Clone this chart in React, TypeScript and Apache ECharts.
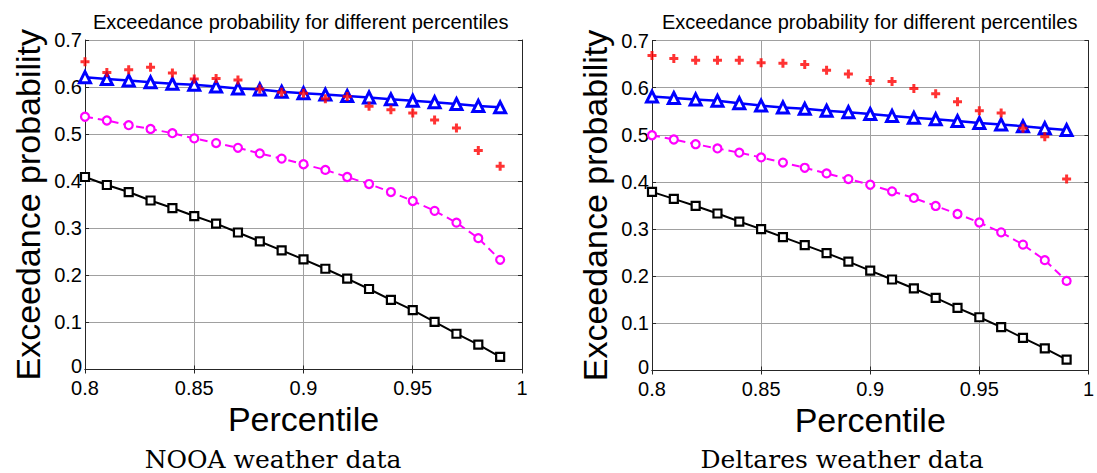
import React, { useEffect, useRef } from "react";
import * as echarts from "echarts";

const percentiles = [0.80, 0.81, 0.82, 0.83, 0.84, 0.85, 0.86, 0.87, 0.88, 0.89, 0.90, 0.91, 0.92, 0.93, 0.94, 0.95, 0.96, 0.97, 0.98, 0.99];

const noaaRed = [0.654, 0.631, 0.637, 0.642, 0.630, 0.617, 0.618, 0.615, 0.596, 0.589, 0.587, 0.575, 0.580, 0.559, 0.552, 0.545, 0.530, 0.513, 0.465, 0.432];
const noaaBlue = [0.621, 0.617, 0.614, 0.610, 0.607, 0.605, 0.601, 0.597, 0.595, 0.590, 0.587, 0.584, 0.581, 0.578, 0.574, 0.571, 0.568, 0.564, 0.560, 0.557];
const noaaMagenta = [0.537, 0.529, 0.519, 0.511, 0.502, 0.491, 0.481, 0.471, 0.459, 0.448, 0.436, 0.424, 0.409, 0.394, 0.377, 0.358, 0.337, 0.312, 0.279, 0.233];
const noaaBlack = [0.409, 0.392, 0.377, 0.359, 0.343, 0.326, 0.310, 0.291, 0.272, 0.253, 0.234, 0.214, 0.193, 0.171, 0.148, 0.126, 0.101, 0.076, 0.053, 0.027];

const deltaresRed = [0.668, 0.662, 0.658, 0.658, 0.658, 0.653, 0.652, 0.649, 0.637, 0.629, 0.615, 0.613, 0.598, 0.587, 0.570, 0.551, 0.546, 0.514, 0.496, 0.406];
const deltaresBlue = [0.581, 0.578, 0.575, 0.572, 0.567, 0.562, 0.558, 0.555, 0.551, 0.548, 0.544, 0.540, 0.536, 0.533, 0.529, 0.525, 0.522, 0.518, 0.514, 0.510];
const deltaresMagenta = [0.499, 0.490, 0.480, 0.471, 0.462, 0.452, 0.441, 0.430, 0.418, 0.406, 0.394, 0.380, 0.366, 0.349, 0.332, 0.314, 0.293, 0.267, 0.234, 0.190];
const deltaresBlack = [0.379, 0.364, 0.349, 0.333, 0.316, 0.300, 0.283, 0.266, 0.249, 0.231, 0.212, 0.193, 0.174, 0.154, 0.133, 0.113, 0.092, 0.069, 0.047, 0.023];

const chartTitle = "Exceedance probability for different percentiles";
const xName = "Percentile";
const yName = "Exceedance probability";
const captions = ["NOOA weather data", "Deltares weather data"];

const SANS = "'Liberation Sans', Arial, Helvetica, sans-serif";
const SERIF = "'DejaVu Serif', 'Liberation Serif', serif";

const pairs = (vals: number[]) => percentiles.map((p, i) => [p, vals[i]]);

const fmtX = (v: number) => String(+v.toFixed(2));
const fmtY = (v: number) => (Math.abs(v) < 1e-9 ? "{z|0}" : String(+v.toFixed(1)));

function panelSeries(gi: number, red: number[], blue: number[], magenta: number[], black: number[]) {
  const ax = { xAxisIndex: gi * 2, yAxisIndex: gi * 2 };
  return [
    {
      type: "line", ...ax, data: pairs(black),
      lineStyle: { color: "#000", width: 2 },
      symbol: "rect", symbolSize: 8,
      itemStyle: { color: "#fff", borderColor: "#000", borderWidth: 2.2 },
      z: 2,
    },
    {
      type: "line", ...ax, data: pairs(magenta),
      lineStyle: { color: "#ff00ff", width: 2, type: [8, 5] },
      symbol: "circle", symbolSize: 8,
      itemStyle: { color: "#fff", borderColor: "#ff00ff", borderWidth: 2.2 },
      z: 3,
    },
    {
      type: "line", ...ax, data: pairs(blue),
      lineStyle: { color: "#0000ff", width: 2.5 },
      symbol: "triangle", symbolSize: 11,
      itemStyle: { color: "#fff", borderColor: "#0000ff", borderWidth: 3 },
      z: 4,
    },
    {
      type: "scatter", ...ax, data: pairs(red),
      symbol: "path://M2,0H4V2H6V4H4V6H2V4H0V2H2Z", symbolSize: 9,
      itemStyle: { color: "#ff0000" },
      z: 5,
    },
  ];
}

function axesFor(gi: number) {
  const axisLine = { show: true, lineStyle: { color: "#262626", width: 1 } };
  const tick = { show: true, inside: true, length: 4, lineStyle: { color: "#262626" } };
  const xs = [
    {
      type: "value", gridIndex: gi, min: 0.8, max: 1, interval: 0.05,
      name: xName, nameLocation: "middle", nameGap: 30,
      nameTextStyle: { fontFamily: SANS, fontSize: 34, color: "#000" },
      axisLine, axisTick: tick,
      axisLabel: { formatter: fmtX, fontFamily: SANS, fontSize: 20, color: "#000", margin: 8 },
      splitLine: { show: true, lineStyle: { color: "#a0a0a0", width: 1 } },
    },
    {
      type: "value", gridIndex: gi, min: 0.8, max: 1, interval: 0.05, position: "top",
      axisLine, axisTick: tick, axisLabel: { show: false }, splitLine: { show: false },
    },
  ];
  const ys = [
    {
      type: "value", gridIndex: gi, min: 0, max: 0.7, interval: 0.1,
      name: yName, nameLocation: "middle", nameGap: 40,
      nameTextStyle: { fontFamily: SANS, fontSize: 34, color: "#000" },
      axisLine, axisTick: tick,
      axisLabel: {
        formatter: fmtY, fontFamily: SANS, fontSize: 20, color: "#000", margin: 3,
        rich: { z: { fontFamily: SANS, fontSize: 20, color: "#000", padding: [0, 0, 8, 0] } },
      },
      splitLine: { show: true, lineStyle: { color: "#a0a0a0", width: 1 } },
    },
    {
      type: "value", gridIndex: gi, min: 0, max: 0.7, interval: 0.1, position: "right",
      axisLine, axisTick: tick, axisLabel: { show: false }, splitLine: { show: false },
    },
  ];
  return { xs, ys };
}

export default function App() {
  const ref = useRef<HTMLDivElement>(null);
  useEffect(() => {
    if (!ref.current) return;
    const chart = echarts.init(ref.current, null, { renderer: "svg" });
    const a0 = axesFor(0);
    const a1 = axesFor(1);
    chart.setOption({
      animation: false,
      backgroundColor: "#fff",
      title: [
        { text: chartTitle, left: 93, top: 12, padding: 0, textStyle: { fontFamily: SANS, fontSize: 20, fontWeight: "normal", color: "#000" } },
        { text: chartTitle, left: 662, top: 12, padding: 0, textStyle: { fontFamily: SANS, fontSize: 20, fontWeight: "normal", color: "#000" } },
      ],
      grid: [
        { left: 85, top: 40, width: 437, height: 329.5 },
        { left: 652, top: 40.5, width: 440, height: 330 },
      ],
      xAxis: [a0.xs[0], a0.xs[1], a1.xs[0], a1.xs[1]],
      yAxis: [a0.ys[0], a0.ys[1], a1.ys[0], a1.ys[1]],
      series: [
        ...panelSeries(0, noaaRed, noaaBlue, noaaMagenta, noaaBlack),
        ...panelSeries(1, deltaresRed, deltaresBlue, deltaresMagenta, deltaresBlack),
      ],
      graphic: [
        { type: "text", x: 273, y: 459, style: { text: captions[0], font: `25px ${SERIF}`, fill: "#000", textAlign: "center", textVerticalAlign: "middle" } },
        { type: "text", x: 842, y: 459, style: { text: captions[1], font: `25px ${SERIF}`, fill: "#000", textAlign: "center", textVerticalAlign: "middle" } },
      ],
    });
    return () => chart.dispose();
  }, []);
  return <div ref={ref} style={{ position: "absolute", left: 0, top: 0, width: 1097, height: 473 }} />;
}
